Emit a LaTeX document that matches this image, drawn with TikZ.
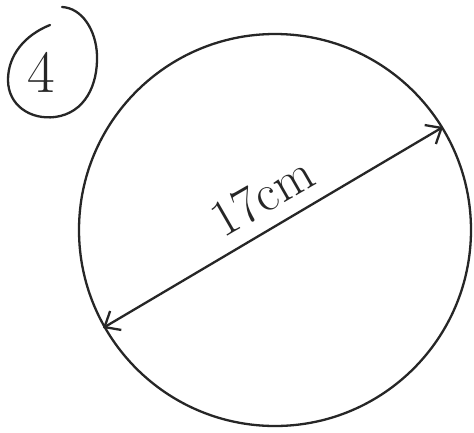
\documentclass[tikz,border=0pt]{standalone}
\usetikzlibrary{arrows.meta}
\begin{document}
\begin{tikzpicture}[x=1pt,y=-1pt,
  pen/.style={draw=black!85, line width=2.3pt, line cap=round, line join=round},
  mytip/.tip={Straight Barb[length=13pt, width=22pt, line width=2.3pt]}]
\useasboundingbox (0,0) rectangle (474,432);
\fill[white] (0,0) rectangle (474,432);
% big circle
\node[pen, circle, minimum size=392pt, inner sep=0pt] (circ) at (275,230) {};
% diameter
\coordinate (A) at (103,328);
\coordinate (B) at (443,127);
\draw[pen, mytip-mytip] (A) -- (B);
% label
\node[rotate=30, font=\fontsize{52}{56}\selectfont, text=black!85] (lbl) at (262,196) {17cm};
% circled number
\node[font=\fontsize{60}{64}\selectfont, text=black!85] (num) at (41,72) {4};
\draw[pen] (50,25) .. controls (25,35) and (8,55) .. (8,80)
  .. controls (8,105) and (30,120) .. (55,117)
  .. controls (85,113) and (98,85) .. (97,55)
  .. controls (96,30) and (82,8) .. (62,7);
\end{tikzpicture}
\end{document}
